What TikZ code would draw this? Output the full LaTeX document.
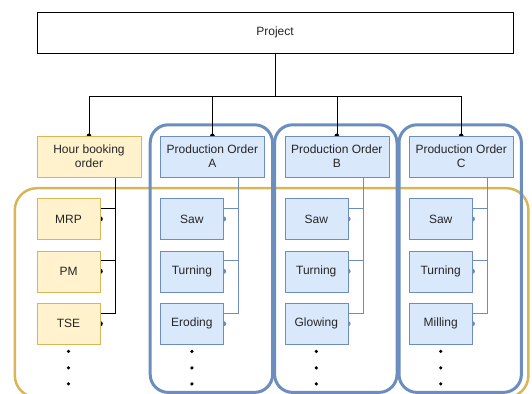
\documentclass[tikz,border=0pt]{standalone}
\usepackage{fontspec}
\setmainfont{Liberation Sans}
\usetikzlibrary{arrows.meta, positioning, backgrounds, calc}
\definecolor{cPO}{HTML}{DAE8FC}
\definecolor{cPOline}{HTML}{6C8EBF}
\definecolor{cHB}{HTML}{FFF2CC}
\definecolor{cHBline}{HTML}{D6B656}

\begin{document}
\begin{tikzpicture}[
  x=1pt, y=-1pt,
  font=\fontsize{12}{14}\selectfont,
  box/.style={draw, align=center, minimum height=41pt, inner sep=0pt, text=black!85},
  hbox/.style={box, fill=cHB, draw=cHBline},
  pbox/.style={box, fill=cPO, draw=cPOline},
  obox/.style={minimum width=104pt},
  tbox/.style={minimum width=63pt},
  link/.style={-{Circle[length=4.5pt]}, shorten >=-2.25pt},
  hbline/.style={draw=black},
  poline/.style={draw=cPOline},
  frame/.style={draw=cPOline, line width=3pt, rounded corners=18pt},
  hbframe/.style={draw=cHBline, line width=2.5pt, rounded corners=22pt}
]
\useasboundingbox (0,0) rectangle (532,393);

\node[box, draw=black, minimum width=476pt] (project) at (275,32.5) {Project};
\coordinate[below=43pt of project] (bus);

% order row
\node[hbox, obox] (hb) at (89,156.5) {Hour booking\\order};
\node[pbox, obox, right=19pt of hb] (poA) {Production Order\\A};
\node[pbox, obox, right=20pt of poA] (poB) {Production Order\\B};
\node[pbox, obox, right=20pt of poB] (poC) {Production Order\\C};

% hour booking tasks
\node[hbox, tbox, below=21pt of hb.south west, anchor=north west] (mrp) {MRP};
\node[hbox, tbox, below=11pt of mrp] (pm) {PM};
\node[hbox, tbox, below=11pt of pm] (tse) {TSE};

% operations per order
\node[pbox, tbox, below=21pt of poA.south west, anchor=north west] (sawA) {Saw};
\node[pbox, tbox, below=11pt of sawA] (turnA) {Turning};
\node[pbox, tbox, below=11pt of turnA] (erodA) {Eroding};

\node[pbox, tbox, below=21pt of poB.south west, anchor=north west] (sawB) {Saw};
\node[pbox, tbox, below=11pt of sawB] (turnB) {Turning};
\node[pbox, tbox, below=11pt of turnB] (glowB) {Glowing};

\node[pbox, tbox, below=21pt of poC.south west, anchor=north west] (sawC) {Saw};
\node[pbox, tbox, below=11pt of sawC] (turnC) {Turning};
\node[pbox, tbox, below=11pt of turnC] (millC) {Milling};

% more rows follow
\foreach \n in {tse,erodA,glowB,millC}
  \foreach \d in {7,23.5,39.5}
    \fill ([yshift=-\d pt]\n.south) circle (1.8pt);

\begin{scope}[on background layer]
  \draw[hbframe] ([xshift=-22pt,yshift=10pt]mrp.north west) rectangle ([xshift=15pt,yshift=-53pt]poC.east |- tse.south);
  \draw[frame] ([xshift=-10pt,yshift=11pt]poA.north west) rectangle ([xshift=8pt,yshift=-48pt]poA.east |- erodA.south);
  \draw[frame] ([xshift=-10pt,yshift=11pt]poB.north west) rectangle ([xshift=8pt,yshift=-48pt]poB.east |- glowB.south);
  \draw[frame] ([xshift=-10pt,yshift=11pt]poC.north west) rectangle ([xshift=8pt,yshift=-48pt]poC.east |- millC.south);

  \draw[hbline] (project.south) -- (bus);
  \draw[hbline, link] (bus) -| (hb.north);
  \draw[hbline, link] (bus) -| (poA.north);
  \draw[hbline, link] (bus) -| (poB.north);
  \draw[hbline, link] (bus) -| (poC.north);

  \draw[hbline] ($(hb.south)!.5!(hb.south east)$) |- ([yshift=-10pt]mrp.north east);
  \draw[hbline] ($(hb.south)!.5!(hb.south east)$) |- ([yshift=-10pt]pm.north east);
  \draw[hbline] ($(hb.south)!.5!(hb.south east)$) |- ([yshift=-10pt]tse.north east);
  \foreach \n in {mrp,pm,tse}
    \fill (\n.east) circle (2.6pt);

  \draw[poline] ($(poA.south)!.5!(poA.south east)$) |- ([yshift=-10pt]sawA.north east);
  \draw[poline] ($(poA.south)!.5!(poA.south east)$) |- ([yshift=-10pt]turnA.north east);
  \draw[poline] ($(poA.south)!.5!(poA.south east)$) |- ([yshift=-10pt]erodA.north east);
  \draw[poline] ($(poB.south)!.5!(poB.south east)$) |- ([yshift=-10pt]sawB.north east);
  \draw[poline] ($(poB.south)!.5!(poB.south east)$) |- ([yshift=-10pt]turnB.north east);
  \draw[poline] ($(poB.south)!.5!(poB.south east)$) |- ([yshift=-10pt]glowB.north east);
  \draw[poline] ($(poC.south)!.5!(poC.south east)$) |- ([yshift=-10pt]sawC.north east);
  \draw[poline] ($(poC.south)!.5!(poC.south east)$) |- ([yshift=-10pt]turnC.north east);
  \draw[poline] ($(poC.south)!.5!(poC.south east)$) |- ([yshift=-10pt]millC.north east);
  \foreach \n in {sawA,turnA,erodA,sawB,turnB,glowB,sawC,turnC,millC}
    \fill[cPOline] (\n.east) circle (2.6pt);
\end{scope}
\end{tikzpicture}
\end{document}
